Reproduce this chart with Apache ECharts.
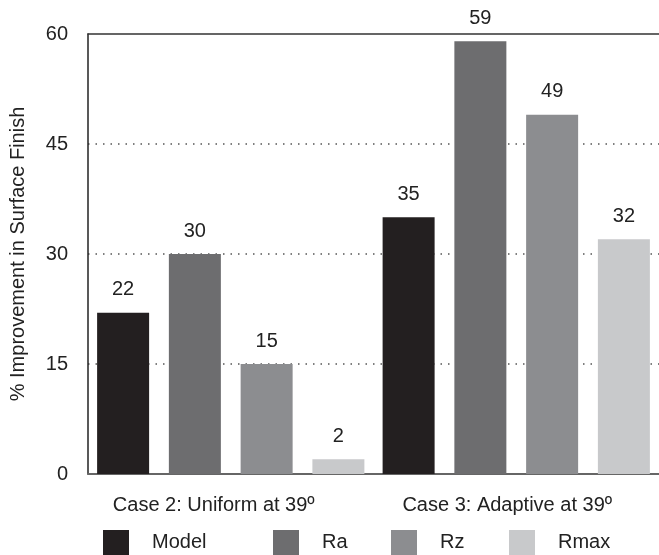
<!DOCTYPE html>
<html>
<head>
<meta charset="utf-8">
<script src="https://cdn.jsdelivr.net/npm/echarts@6/dist/echarts.min.js"></script>
<style>html,body{margin:0;padding:0;background:#fff}#c{width:659px;height:555px}</style>
</head>
<body>
<div id="c"></div>
<script>
const categories = ['Case 2: Uniform at 39º', 'Case 3: Adaptive at 39º'];
const seriesNames = ['Model', 'Ra', 'Rz', 'Rmax'];
const modelValues = [22, 35];
const raValues = [30, 59];
const rzValues = [15, 49];
const rmaxValues = [2, 32];
const yTicks = [0, 15, 30, 45, 60];
const colors = ['#231f20', '#6d6d6f', '#8c8d90', '#c8c9cb'];
const legendLefts = [103, 273, 391, 509];

const font = 'Liberation Sans, Arial, Helvetica, sans-serif';
const allValues = [modelValues, raValues, rzValues, rmaxValues];

const chart = echarts.init(document.getElementById('c'), null, {renderer: 'canvas'});
chart.setOption({
  animation: false,
  backgroundColor: '#fff',
  textStyle: {fontFamily: font},
  grid: {left: 88, right: 0, top: 34, bottom: 81, containLabel: false, outerBoundsMode: 'none'},
  legend: seriesNames.map((n, i) => ({
    data: [n],
    left: legendLefts[i],
    top: 530,
    padding: 0,
    itemWidth: 26,
    itemHeight: 25,
    icon: 'rect',
    selectedMode: false,
    textStyle: {fontSize: 20, color: '#222', fontFamily: font, padding: [2, 0, 0, 18]}
  })),
  xAxis: [{
    type: 'category',
    data: categories,
    axisLine: {show: true, lineStyle: {color: '#666', width: 2}},
    axisTick: {show: false},
    axisLabel: {
      margin: 21,
      formatter: (v, idx) => (idx === 0 ? '{a|' + v + '}' : '{b|' + v + '}'),
      rich: {
        a: {fontSize: 20, color: '#222', fontFamily: font, padding: [0, 34, 0, 0]},
        b: {fontSize: 20, color: '#222', fontFamily: font, padding: [0, 18, 0, 0]}
      }
    }
  }, {
    type: 'category',
    position: 'top',
    data: categories,
    axisLine: {show: true, lineStyle: {color: '#333', width: 1.5}},
    axisTick: {show: false},
    axisLabel: {show: false}
  }],
  yAxis: {
    type: 'value',
    min: yTicks[0],
    max: yTicks[yTicks.length - 1],
    interval: 15,
    name: '% Improvement in Surface Finish',
    nameLocation: 'middle',
    nameGap: 60,
    nameTextStyle: {fontSize: 20, color: '#222', fontFamily: font},
    axisLine: {show: true, lineStyle: {color: '#222', width: 1.5}},
    axisTick: {show: false},
    axisLabel: {fontSize: 20, color: '#222', margin: 20, fontFamily: font},
    splitLine: {
      show: true,
      showMaxLine: false,
      showMinLine: false,
      lineStyle: {color: '#555', width: 1.5, type: [1.5, 6]}
    }
  },
  series: seriesNames.map((n, i) => ({
    name: n,
    type: 'bar',
    data: allValues[i],
    barWidth: 52,
    barGap: '38%',
    barCategoryGap: '6%',
    itemStyle: {color: colors[i]},
    label: {show: true, position: 'top', distance: 13, fontSize: 20, color: '#222', fontFamily: font}
  }))
});
</script>
</body>
</html>
